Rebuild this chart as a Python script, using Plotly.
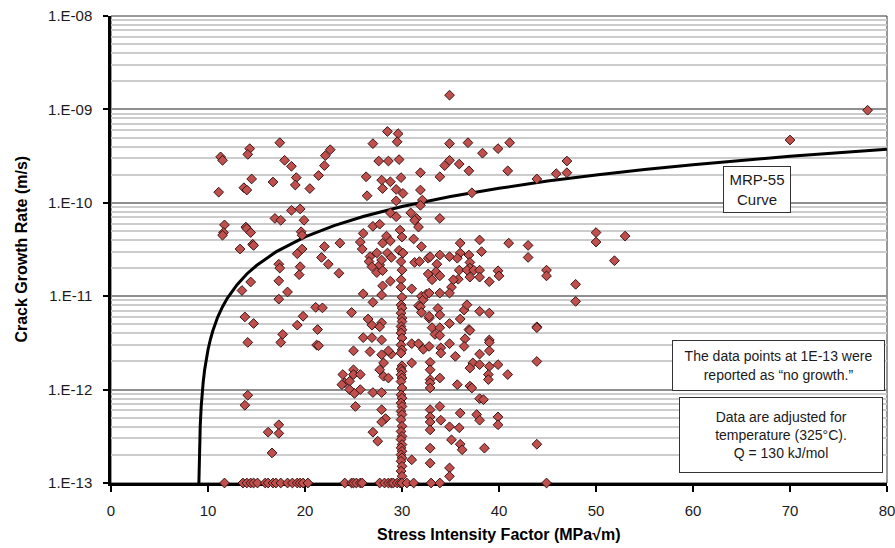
import plotly.graph_objects as go

# ---- Measured crack growth data (K in MPa*sqrt(m), rate in m/s) ----
stress_k = [
    11.3, 11.5, 11.1, 14.3, 14.1, 14.5, 13.7, 14.0, 17.4, 17.9, 18.6, 16.7, 19.1, 19.0, 20.5, 22.6, 22.1, 22.0, 21.4,
    11.7, 11.6, 11.5, 13.3, 13.9, 14.0, 14.4, 14.6, 14.7, 13.5, 14.4, 16.9, 17.5, 18.6, 19.5, 19.9, 19.6, 19.7, 19.7,
    19.2, 19.5, 19.4, 17.3, 17.4, 17.3, 17.3, 18.2, 22.0, 21.7, 22.4, 23.6, 23.5,
    13.8, 14.7, 14.1, 19.8, 19.2, 17.7, 17.5, 21.1, 21.8, 21.3, 21.2, 21.4,
    14.1, 13.8, 17.3, 16.2, 17.3, 16.6,
    34.9, 28.5, 29.6, 29.5, 27.0, 27.6, 28.6, 29.7, 26.3, 27.9, 28.8, 29.9, 29.4, 28.0, 30.1, 26.4, 29.4, 28.8, 29.4,
    30.9, 31.5, 31.9, 31.9, 32.1, 31.9, 33.9, 34.4, 34.9, 34.9, 35.9, 36.9, 36.8, 38.3, 39.9, 41.1, 40.9, 37.2, 43.9,
    45.9, 33.9,
    47.0, 47.0, 50.0, 50.0, 53.0, 51.9, 47.9, 47.9, 70.0, 78.0,
    25.7, 25.9, 26.0, 27.0, 27.7, 28.0, 28.4, 28.8, 26.7, 27.4, 26.6, 26.9, 27.7, 27.4, 27.9, 28.5, 28.9, 28.0, 28.8,
    28.0, 27.9, 26.0,
    29.8, 30.0, 29.7, 30.1, 29.9, 30.0, 29.9,
    31.3, 31.7, 31.2, 32.0, 31.3, 31.8, 31.0, 32.0, 32.2, 32.5,
    32.7, 32.9, 33.6, 33.9, 33.5, 32.7, 33.1, 33.9, 34.9, 35.1, 34.9, 33.9, 32.8,
    36.0, 36.0, 35.7, 35.9, 35.8, 35.3, 36.9, 37.0, 37.0, 36.7, 37.4, 37.0, 38.0, 38.2, 38.0, 38.0, 39.0, 39.9, 40.0,
    41.0, 43.0, 43.0, 44.9, 44.9,
    24.8, 27.0, 26.5, 26.9, 27.9, 27.7, 26.0, 26.9, 27.9, 25.0, 26.7, 27.9, 28.9, 28.6, 28.1, 27.7, 28.1, 28.6, 31.0, 31.0,
    31.7, 31.9, 32.0, 32.8, 33.1, 33.9, 32.8, 33.7, 33.9, 33.4, 33.9, 34.9, 36.0, 36.4, 36.7, 36.9, 37.0, 38.0, 39.0,
    39.0, 39.0, 39.0, 36.5, 36.4, 35.5, 37.3, 37.0, 38.0, 38.0, 39.0, 38.9, 38.9, 39.9, 40.9, 31.7, 32.2, 32.8, 34.0,
    34.0, 34.9, 32.9, 32.9, 33.9, 32.9, 32.9, 32.9, 35.7, 37.0, 37.2, 43.9, 43.9, 43.9,
    23.9, 24.1, 23.8, 25.0, 25.0, 24.6, 25.7, 24.6,
    25.1, 25.7, 27.0, 27.9, 25.2, 27.9, 28.3, 27.9, 27.0, 27.5, 31.0, 32.9, 32.9, 32.9, 32.9, 32.9, 32.9, 33.9, 34.0,
    34.9, 35.9, 36.0, 35.1, 36.0, 36.2, 34.9, 34.9, 38.0, 38.4, 37.7, 38.0, 38.5, 39.9, 39.9, 43.9,
    29.9, 30.0, 29.9, 30.0, 29.9, 30.0, 30.0, 29.9, 30.0, 29.9, 30.0, 29.9, 30.0, 29.9, 30.0, 29.9, 30.0, 29.9, 30.0,
    29.9, 30.0, 29.9, 30.0, 29.9, 30.0, 29.9, 30.0, 29.9, 30.0, 29.9, 30.0, 29.9, 30.0, 29.9, 30.0, 29.9, 30.0, 29.9,
    30.0, 29.9, 30.0,
]
growth_rate = [
    3.1e-10, 2.85e-10, 1.3e-10, 3.8e-10, 3.3e-10, 1.8e-10, 1.45e-10, 1.37e-10, 4.4e-10, 2.85e-10, 2.46e-10, 1.67e-10,
    1.86e-10, 1.55e-10, 1.42e-10, 3.7e-10, 3.2e-10, 2.5e-10, 1.96e-10,
    5.8e-11, 4.8e-11, 4.5e-11, 3.2e-11, 5.5e-11, 5.3e-11, 4.8e-11, 3.6e-11, 3.5e-11, 1.15e-11, 1.42e-11, 6.8e-11,
    6.5e-11, 8.3e-11, 8.6e-11, 6.5e-11, 4.9e-11, 4.5e-11, 3.2e-11,
    2.85e-11, 2.07e-11, 1.7e-11, 2.2e-11, 2.0e-11, 1.46e-11, 9.3e-12, 1.11e-11, 3.4e-11, 2.6e-11, 2.2e-11, 3.7e-11,
    1.76e-11,
    6.0e-12, 5.1e-12, 3.2e-12, 6.1e-12, 4.9e-12, 3.9e-12, 3.2e-12, 7.6e-12, 7.5e-12, 4.4e-12, 3.0e-12, 2.95e-12,
    8.7e-13, 6.8e-13, 4.2e-13, 3.5e-13, 3.4e-13, 2.1e-13,
    1.42e-9, 5.8e-10, 5.5e-10, 4.5e-10, 4.3e-10, 2.8e-10, 2.8e-10, 2.9e-10, 1.9e-10, 1.75e-10, 1.68e-10, 1.86e-10,
    1.39e-10, 1.42e-10, 1.26e-10, 1.19e-10, 1.05e-10, 7.8e-11, 7.1e-11,
    7.8e-11, 6.8e-11, 2.1e-10, 1.37e-10, 1.07e-10, 9.4e-11, 1.9e-10, 2.5e-10, 2.85e-10, 4.3e-10, 2.6e-10, 2.2e-10,
    4.4e-10, 3.4e-10, 3.8e-10, 4.4e-10, 2.2e-10, 1.28e-10, 1.8e-10,
    2.05e-10, 6.8e-11,
    2.8e-10, 2.1e-10, 4.8e-11, 3.8e-11, 4.4e-11, 2.4e-11, 1.34e-11, 8.8e-12, 4.7e-10, 9.8e-10,
    3.8e-11, 3.2e-11, 4.7e-11, 5.6e-11, 5.9e-11, 3.7e-11, 4.4e-11, 3.9e-11, 2.65e-11, 2.9e-11, 2.35e-11, 2.07e-11,
    2.16e-11, 1.79e-11, 2.44e-11, 2.9e-11, 2.6e-11, 1.88e-11, 1.45e-11,
    1.29e-11, 1.03e-11, 1.06e-11,
    5.1e-11, 4.3e-11, 3.1e-11, 2.9e-11, 2.35e-11, 1.9e-11, 1.5e-11,
    6.5e-11, 5.5e-11, 4.1e-11, 3.4e-11, 2.3e-11, 2.35e-11, 1.2e-11, 1.0e-11, 9.2e-12, 1.05e-11,
    2.55e-11, 2.65e-11, 2.2e-11, 2.76e-11, 1.83e-11, 1.73e-11, 1.5e-11, 1.65e-11, 2.65e-11, 1.25e-11, 1.08e-11,
    1.08e-11, 1.08e-11,
    3.7e-11, 2.9e-11, 2.55e-11, 1.9e-11, 1.52e-11, 1.5e-11, 2.76e-11, 2.3e-11, 2.0e-11, 1.9e-11, 1.9e-11, 1.6e-11,
    4.0e-11, 3.0e-11, 1.9e-11, 1.6e-11, 1.43e-11, 1.87e-11, 1.65e-11,
    3.7e-11, 3.5e-11, 2.6e-11, 1.9e-11, 1.65e-11,
    6.7e-12, 8.6e-12, 5.7e-12, 4.9e-12, 5.2e-12, 4.7e-12, 3.6e-12, 3.6e-12, 3.4e-12, 2.6e-12, 2.55e-12, 2.36e-12,
    2.4e-12, 2.6e-12, 1.93e-12, 1.63e-12, 1.39e-12, 1.33e-12, 1.93e-12, 3.1e-12,
    7.9e-12, 7.7e-12, 6.7e-12, 5.8e-12, 4.6e-12, 4.6e-12, 6.1e-12, 7.4e-12, 6.3e-12, 3.9e-12, 3.8e-12, 5.1e-12,
    5.7e-12, 7.1e-12, 8.1e-12, 4.4e-12, 4.3e-12, 6.9e-12, 6.6e-12,
    3.4e-12, 3.2e-12, 2.6e-12, 3.5e-12, 2.9e-12, 2.27e-12, 1.93e-12, 1.7e-12, 2.4e-12, 1.85e-12, 1.77e-12, 1.45e-12,
    1.28e-12, 1.85e-12, 1.45e-12, 3.1e-12, 2.7e-12, 2.9e-12, 2.8e-12,
    2.46e-12, 3.1e-12, 1.96e-12, 1.63e-12, 1.33e-12, 1.28e-12, 1.18e-12, 1.04e-12, 1.13e-12, 1.09e-12, 1.04e-12,
    4.7e-12, 4.6e-12, 2.0e-12,
    1.45e-12, 1.18e-12, 1.13e-12, 1.63e-12, 1.45e-12, 1.23e-12, 1.45e-12, 1.0e-12,
    9.1e-13, 1.0e-12, 9.3e-13, 9.3e-13, 6.6e-13, 6.1e-13, 4.9e-13, 4.5e-13, 3.5e-13, 2.8e-13, 1.77e-13, 6.1e-13,
    5.1e-13, 4.5e-13, 3.7e-13, 2.36e-13, 1.63e-13, 6.6e-13, 4.7e-13,
    4.0e-13, 3.9e-13, 5.6e-13, 2.9e-13, 2.6e-13, 2.27e-13, 1.45e-13, 1.18e-13, 8.0e-13, 7.8e-13, 5.4e-13, 4.7e-13,
    2.36e-13, 5.1e-13, 4.2e-13, 2.6e-13,
    1.25e-11, 9.75e-12, 8.07e-12, 7.45e-12, 6.58e-12, 5.82e-12, 5.36e-12, 4.74e-12, 4.37e-12, 4.03e-12, 3.56e-12,
    3.02e-12, 2.67e-12, 2.46e-12, 1.8e-12, 1.66e-12, 1.57e-12, 1.44e-12, 1.33e-12, 1.22e-12, 1.04e-12, 8.8e-13,
    8.1e-13, 7.2e-13, 6.6e-13, 5.85e-13, 5.4e-13, 4.77e-13, 4.05e-13, 3.57e-13, 3.16e-13, 2.92e-13, 2.58e-13,
    2.38e-13, 2.19e-13, 2.01e-13, 1.86e-13, 1.71e-13, 1.51e-13, 1.34e-13, 1.18e-13,
]

# ---- "No growth" tests, plotted at 1E-13 ----
nogrowth_k = [11.7, 13.6, 14.0, 14.4, 14.7, 15.1, 15.9, 16.2, 16.7, 17.0, 17.5, 18.2, 18.7, 19.2, 19.5, 19.8, 20.3,
              24.1, 24.8, 25.0, 25.3, 25.7, 25.9, 27.7, 28.2, 28.6, 28.9, 29.1, 29.5, 29.8, 30.0, 30.5, 31.2,
              33.0, 33.9, 44.9]
nogrowth_rate = [1e-13] * len(nogrowth_k)

# ---- MRP-55 disposition curve ----
curve_k = [9.06, 9.08, 9.1, 9.15, 9.2, 9.3, 9.35, 9.5, 9.65, 9.75, 10.0, 10.25, 10.5, 11.0, 11.5, 12.0, 13.0, 14.0,
           15.0, 17.0, 20.0, 23.0, 26.0, 30.0, 35.0, 40.0, 45.0, 50.0, 55.0, 60.0, 65.0, 70.0, 75.0, 80.0]
curve_rate = [1.0e-13, 1.43e-13, 1.85e-13, 2.96e-13, 4.13e-13, 6.6e-13, 7.9e-13, 1.19e-12, 1.62e-12, 1.91e-12,
              2.67e-12, 3.46e-12, 4.27e-12, 5.97e-12, 7.73e-12, 9.55e-12, 1.33e-11, 1.73e-11, 2.13e-11, 2.98e-11,
              4.31e-11, 5.70e-11, 7.14e-11, 9.13e-11, 1.17e-10, 1.43e-10, 1.71e-10, 1.98e-10, 2.27e-10, 2.55e-10,
              2.85e-10, 3.15e-10, 3.44e-10, 3.75e-10]

y_tickvals = [1e-13, 1e-12, 1e-11, 1e-10, 1e-9, 1e-8]
y_ticktext = ["1.E-13", "1.E-12", "1.E-11", "1.E-10", "1.E-09", "1.E-08"]
x_tickvals = [0, 10, 20, 30, 40, 50, 60, 70, 80]

minor_y = [m * d for d in [1e-13, 1e-12, 1e-11, 1e-10, 1e-9] for m in range(2, 10)]

FONT = "Liberation Sans, Arial, sans-serif"
marker_style = dict(symbol="diamond", size=7.5, color="#c0504d", line=dict(color="#3a1515", width=1))

fig = go.Figure()
fig.add_trace(go.Scatter(x=curve_k, y=curve_rate, mode="lines", line=dict(color="black", width=3),
                         hoverinfo="skip", showlegend=False))
fig.add_trace(go.Scatter(x=stress_k, y=growth_rate, mode="markers", marker=marker_style,
                         cliponaxis=False, showlegend=False))
fig.add_trace(go.Scatter(x=nogrowth_k, y=nogrowth_rate, mode="markers", marker=marker_style,
                         cliponaxis=False, showlegend=False))

box = dict(xref="paper", yref="paper", showarrow=False, bgcolor="white", bordercolor="#333333",
           borderwidth=1, borderpad=0, align="center", xanchor="center", yanchor="middle")

fig.update_layout(
    width=895, height=548,
    margin=dict(l=111, r=8, t=15.5, b=64.5, autoexpand=False),
    paper_bgcolor="white", plot_bgcolor="white",
    font=dict(family=FONT, size=15, color="#1a1a1a"),
    showlegend=False,
    xaxis=dict(
        range=[0, 80], tickvals=x_tickvals, ticks="outside", ticklen=6, tickwidth=1.5, tickcolor="black",
        showline=True, linecolor="black", linewidth=2.5, showgrid=False, zeroline=False,
        layer="below traces", ticklabelstandoff=6, automargin=False, ticklabeloverflow="allow",
        tickfont=dict(family=FONT, size=15, color="#1a1a1a"),
    ),
    xaxis2=dict(
        range=[0, 80], overlaying="x", anchor="y", dtick=2, tick0=0, ticks="inside", ticklen=5,
        tickwidth=1.5, tickcolor="black", showticklabels=False, showgrid=False, zeroline=False,
        showline=False, layer="below traces", automargin=False,
    ),
    yaxis=dict(
        type="log", range=[-13, -8], tickvals=y_tickvals, ticktext=y_ticktext, ticks="outside", ticklen=5,
        tickwidth=1.5, tickcolor="black", showline=True, linecolor="black", linewidth=2.5,
        showgrid=True, gridcolor="#8f8f8f", gridwidth=1.5, zeroline=False, layer="below traces",
        ticklabelstandoff=8, automargin=False, ticklabeloverflow="allow",
        minor=dict(tickvals=minor_y, showgrid=True, gridcolor="#cccccc", gridwidth=1.5, ticks=""),
        tickfont=dict(family=FONT, size=15, color="#1a1a1a"),
    ),
    shapes=[dict(type="rect", xref="paper", yref="paper", x0=0, x1=1, y0=0, y1=1,
                 line=dict(color="#333333", width=1), layer="below")],
    annotations=[
        dict(text="<b>Crack Growth Rate (m/s)</b>", xref="paper", yref="paper", x=-0.1147, y=0.502,
             textangle=-90, showarrow=False, font=dict(family=FONT, size=16, color="black"),
             xanchor="center", yanchor="middle"),
        dict(text="<b>Stress Intensity Factor (MPa√m)</b>", xref="paper", yref="paper", x=0.5, y=-0.110,
             showarrow=False, font=dict(family=FONT, size=16, color="black"),
             xanchor="center", yanchor="middle"),
        dict(box, text="MRP-55<br>Curve", x=0.8325, y=0.628,
             font=dict(family=FONT, size=15, color="#1a1a1a"), width=66, height=45),
        dict(box, text="The data points at 1E-13 were<br>reported as “no growth.”", x=0.860, y=0.251,
             font=dict(family=FONT, size=14, color="#1a1a1a"), width=211, height=49),
        dict(box, text="Data are adjusted for<br>temperature (325°C).<br>Q = 130 kJ/mol", x=0.863, y=0.1036,
             font=dict(family=FONT, size=14, color="#1a1a1a"), width=202, height=74),
    ],
)

# remove the default page margin so the 895x548 figure fills the window exactly
fig.write_html(
    "out.html",
    config={"displayModeBar": False},
    post_script="document.documentElement.style.overflow='hidden';"
                "document.body.style.margin='0';document.body.style.overflow='hidden';",
)
